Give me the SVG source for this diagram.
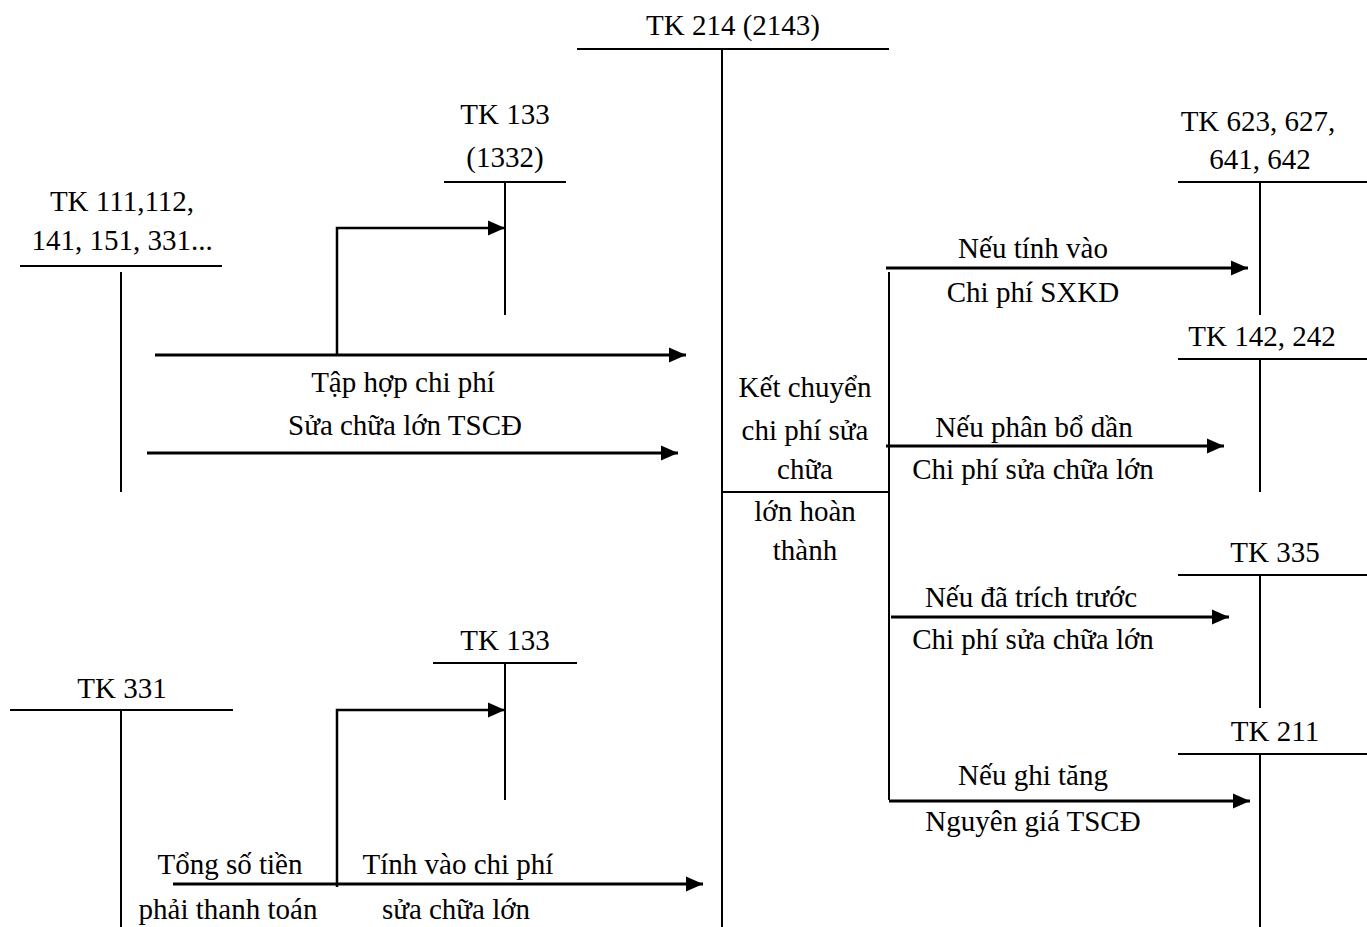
<svg xmlns="http://www.w3.org/2000/svg" width="1367" height="927" viewBox="0 0 1367 927">
  <style>
    text { font-family: "Liberation Serif", "Times New Roman", serif; font-size: 29px; fill: #000; text-anchor: middle; }
    .acct { stroke: #000; stroke-width: 2; fill: none; }
    .flow-end { stroke: #000; stroke-width: 3; fill: none; marker-end: url(#arrow); }
  </style>
  <defs>
    <marker id="arrow" markerUnits="userSpaceOnUse" markerWidth="18" markerHeight="16" refX="17" refY="8" orient="auto">
      <path d="M0,0.5 L17,8 L0,15.5 z" fill="#000"/>
    </marker>
  </defs>
  <rect width="1367" height="927" fill="#fff"/>

  <!-- T-accounts -->
  <g id="tk214">
    <text x="733" y="35">TK 214 (2143)</text>
    <line class="acct" x1="577" y1="49" x2="889" y2="49"/>
    <line class="acct" x1="722" y1="49" x2="722" y2="927"/>
    <line class="acct" x1="722" y1="492" x2="889" y2="492"/>
    <line class="acct" x1="889" y1="272" x2="889" y2="800"/>
    <text x="805" y="397">Kết chuyển</text>
    <text x="805" y="440">chi phí sửa</text>
    <text x="805" y="479">chữa</text>
    <text x="805" y="521">lớn hoàn</text>
    <text x="805" y="560">thành</text>
  </g>

  <g id="tk111">
    <text x="122" y="211">TK 111,112,</text>
    <text x="122" y="250">141, 151, 331...</text>
    <line class="acct" x1="20" y1="266" x2="222" y2="266"/>
    <line class="acct" x1="121" y1="272" x2="121" y2="492"/>
  </g>

  <g id="tk1332">
    <text x="505" y="124">TK 133</text>
    <text x="505" y="167">(1332)</text>
    <line class="acct" x1="444" y1="182" x2="566" y2="182"/>
    <line class="acct" x1="505" y1="182" x2="505" y2="315"/>
  </g>

  <g id="tk331">
    <text x="122" y="698">TK 331</text>
    <line class="acct" x1="10" y1="710" x2="233" y2="710"/>
    <line class="acct" x1="121" y1="710" x2="121" y2="927"/>
  </g>

  <g id="tk133">
    <text x="505" y="650">TK 133</text>
    <line class="acct" x1="433" y1="663" x2="577" y2="663"/>
    <line class="acct" x1="505" y1="663" x2="505" y2="800"/>
  </g>

  <g id="tk623">
    <text x="1258" y="131">TK 623, 627,</text>
    <text x="1260" y="169">641, 642</text>
    <line class="acct" x1="1178" y1="182" x2="1367" y2="182"/>
    <line class="acct" x1="1260" y1="182" x2="1260" y2="315"/>
  </g>

  <g id="tk142">
    <text x="1262" y="346">TK 142, 242</text>
    <line class="acct" x1="1178" y1="359" x2="1367" y2="359"/>
    <line class="acct" x1="1260" y1="359" x2="1260" y2="492"/>
  </g>

  <g id="tk335">
    <text x="1275" y="562">TK 335</text>
    <line class="acct" x1="1178" y1="575" x2="1367" y2="575"/>
    <line class="acct" x1="1260" y1="575" x2="1260" y2="708"/>
  </g>

  <g id="tk211">
    <text x="1275" y="741">TK 211</text>
    <line class="acct" x1="1178" y1="754" x2="1367" y2="754"/>
    <line class="acct" x1="1260" y1="754" x2="1260" y2="927"/>
  </g>

  <!-- Flows -->
  <g id="connectors">
    <polyline class="flow-end" points="337,356 337,228 505,228" style="stroke-width:2.5"/>
    <line class="flow-end" x1="155" y1="355" x2="686" y2="355"/>
    <line class="flow-end" x1="147" y1="453" x2="678" y2="453"/>

    <polyline class="flow-end" points="337,887 337,710 505,710" style="stroke-width:2.5"/>
    <line class="flow-end" x1="173" y1="884" x2="703" y2="884"/>

    <line class="flow-end" x1="886" y1="268" x2="1248" y2="268"/>
    <line class="flow-end" x1="886" y1="446" x2="1224" y2="446"/>
    <line class="flow-end" x1="891" y1="617" x2="1229" y2="617"/>
    <line class="flow-end" x1="889" y1="801" x2="1250" y2="801"/>
  </g>

  <g id="labels">
    <text x="403" y="392">Tập hợp chi phí</text>
    <text x="405" y="435">Sửa chữa lớn TSCĐ</text>
    <text x="230" y="874">Tổng số tiền</text>
    <text x="228" y="919">phải thanh toán</text>
    <text x="458" y="874">Tính vào chi phí</text>
    <text x="456" y="919">sửa chữa lớn</text>
    <text x="1033" y="258">Nếu tính vào</text>
    <text x="1033" y="302">Chi phí SXKD</text>
    <text x="1034" y="437">Nếu phân bổ dần</text>
    <text x="1033" y="479">Chi phí sửa chữa lớn</text>
    <text x="1031" y="607">Nếu đã trích trước</text>
    <text x="1033" y="649">Chi phí sửa chữa lớn</text>
    <text x="1033" y="785">Nếu ghi tăng</text>
    <text x="1033" y="831">Nguyên giá TSCĐ</text>
  </g>
</svg>
